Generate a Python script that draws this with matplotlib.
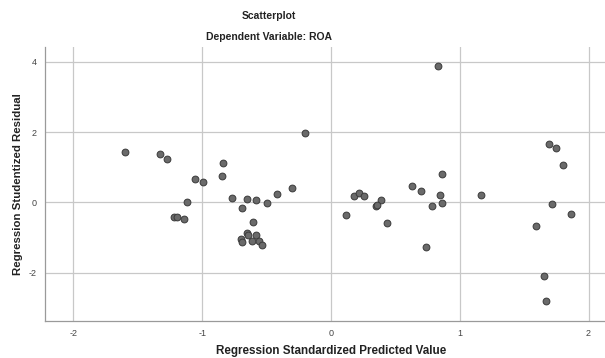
import matplotlib
matplotlib.use("Agg")
import matplotlib.pyplot as plt

plt.rcParams['font.family'] = ['Liberation Sans', 'DejaVu Sans']

pred = [-1.595, -1.328, -1.274, -0.836, -1.056, -0.994, -0.847, -0.204, -0.303, -0.419,
        -0.769, -0.652, -0.580, -0.497, -1.121, -0.690, -1.220, -1.196, -1.142, -0.608,
        -0.652, -0.642, -0.580, -0.701, -0.690, -0.614, -0.559, -0.533,
        0.831, 1.691, 1.748, 1.805, 0.865, 0.627, 0.697, 0.849, 1.168, 0.179,
        0.220, 0.254, 0.388, 0.352, 0.356, 0.787, 0.865, 1.719, 0.114, 0.435,
        0.738, 1.595, 1.862, 1.652, 1.668]
resid = [1.43, 1.36, 1.24, 1.12, 0.67, 0.58, 0.74, 1.97, 0.40, 0.23,
         0.12, 0.10, 0.07, -0.03, 0.00, -0.15, -0.43, -0.41, -0.48, -0.57,
         -0.87, -0.92, -0.92, -1.05, -1.13, -1.09, -1.09, -1.23,
         3.88, 1.65, 1.54, 1.05, 0.81, 0.47, 0.33, 0.20, 0.22, 0.18,
         0.26, 0.18, 0.06, -0.10, -0.08, -0.12, -0.03, -0.04, -0.36, -0.58,
         -1.26, -0.68, -0.32, -2.11, -2.80]

xticks = [-2, -1, 0, 1, 2]
yticks = [-2, 0, 2, 4]

fig = plt.figure(figsize=(6.05, 3.58), dpi=100)
ax = fig.add_axes([45/605, 1-321/358, 1-45/605, (321-47)/358])
ax.set_xlim(-2.22, 2.128)
ax.set_ylim(-3.38, 4.42)
ax.set_xticks(xticks)
ax.set_yticks(yticks)
ax.set_xticklabels([str(t) for t in xticks])
ax.set_yticklabels([str(t) for t in yticks])
ax.grid(True, color='#c8c8c8', linewidth=0.9)
ax.set_axisbelow(True)
for s in ['top', 'right']:
    ax.spines[s].set_visible(False)
for s in ['left', 'bottom']:
    ax.spines[s].set_color('#9a9a9a')
    ax.spines[s].set_linewidth(0.9)
ax.tick_params(length=0, labelsize=6.5, labelcolor='#444444', pad=6)

ax.scatter(pred, resid, s=24, facecolor='#6a6a6a', edgecolor='#3a3a3a', linewidth=0.7, zorder=3)

fig.text(269/605, 1-16/358, 'Scatterplot', ha='center', va='center', fontsize=7.5, fontweight='bold', color='#222222')
fig.text(269/605, 1-37/358, 'Dependent Variable: ROA', ha='center', va='center', fontsize=7.5, fontweight='bold', color='#222222')
fig.text(331/605, 1-351/358, 'Regression Standardized Predicted Value', ha='center', va='center', fontsize=8.4, fontweight='bold', color='#222222')
fig.text(18/605, 1-184/358, 'Regression Studentized Residual', ha='center', va='center', rotation=90, fontsize=8.2, fontweight='bold', color='#222222')

fig.savefig('out.png', dpi=100)
